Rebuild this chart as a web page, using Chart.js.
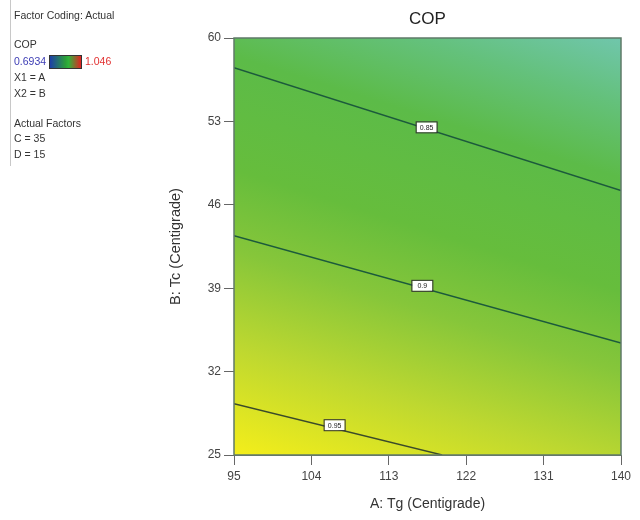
<!DOCTYPE html>
<html>
<head>
<meta charset="utf-8">
<script src="https://cdn.jsdelivr.net/npm/chart.js@4.4.0/dist/chart.umd.min.js"></script>
<style>
  body { margin: 0; background: #fff; font-family: "Liberation Sans", Arial, sans-serif; }
  #wrap { position: relative; width: 640px; height: 520px; }
  #cop { position: absolute; left: 0; top: 0; }
  .side { position: absolute; left: 10px; top: 0; height: 166px; border-left: 1px solid #c8c8c8; }
  .side div { position: absolute; left: 3px; white-space: nowrap; font-size: 10.5px; color: #333; line-height: 12px; }
  .bar { position: absolute; left: 38px; top: 55px; width: 31px; height: 12px; border: 1px solid #333;
         background: linear-gradient(to right, #1d3fa8, #2d9f3a 50%, #2fb43a 60%, #e32222); }
  #title { position: absolute; left: 234px; width: 387px; top: 9px; text-align: center; font-size: 17px; color: #222; }
</style>
</head>
<body>
<div id="wrap">
  <canvas id="cop" width="640" height="520"></canvas>
  <div id="title">COP</div>
  <div class="side">
    <div style="top:9px">Factor Coding: Actual</div>
    <div style="top:38px">COP</div>
    <div style="top:55px; color:#3c3cb4">0.6934</div>
    <span class="bar"></span>
    <div style="top:55px; left:74px; color:#e23232">1.046</div>
    <div style="top:71px">X1 = A</div>
    <div style="top:87px">X2 = B</div>
    <div style="top:117px">Actual Factors</div>
    <div style="top:132px">C = 35</div>
    <div style="top:148px">D = 15</div>
  </div>
</div>
<script>
// tick labels
const xTicks = [95, 104, 113, 122, 131, 140];
const yTicks = [25, 32, 39, 46, 53, 60];

// contour lines (A = Tg, B = Tc)
const levels = ['0.85', '0.9', '0.95'];
const lineA = [[95, 140], [95, 140], [95, 119.2]];
const lineB = [[57.5, 47.2], [43.4, 34.4], [29.3, 25]];
// where each level label sits
const labelA = [117.4, 116.9, 106.7];
const labelB = [52.5, 39.2, 27.5];

const datasets = levels.map((lv, i) => ({
  label: lv,
  data: lineA[i].map((a, j) => ({ x: a, y: lineB[i][j] })),
  showLine: true,
  borderColor: i === 2 ? '#3a4a2a' : '#1c5a3c',
  borderWidth: 1.4,
  pointRadius: 0,
  fill: false
}));

// colour field behind the contours, runs across the contour direction
const fieldPlugin = {
  id: 'field',
  beforeDatasetsDraw(chart) {
    const { ctx, chartArea: ca } = chart;
    const cx = (ca.left + ca.right) / 2, cy = (ca.top + ca.bottom) / 2;
    const dx = -0.3, dy = 0.954, h = 257;
    const g = ctx.createLinearGradient(cx - dx * h, cy - dy * h, cx + dx * h, cy + dy * h);
    g.addColorStop(0, '#70c6ac');
    g.addColorStop(0.12, '#64c17c');
    g.addColorStop(0.26, '#5cbb48');
    g.addColorStop(0.47, '#66bd3c');
    g.addColorStop(0.62, '#86c63a');
    g.addColorStop(0.8, '#bed830');
    g.addColorStop(1, '#f4ee1a');
    ctx.save();
    ctx.fillStyle = g;
    ctx.fillRect(ca.left, ca.top, ca.right - ca.left, ca.bottom - ca.top);
    ctx.restore();
  },
  afterDatasetsDraw(chart) {
    const { ctx, chartArea: ca, scales } = chart;
    ctx.save();
    ctx.font = '7px "Liberation Sans", Arial, sans-serif';
    ctx.textAlign = 'center';
    ctx.textBaseline = 'middle';
    levels.forEach((lv, i) => {
      const px = scales.x.getPixelForValue(labelA[i]);
      const py = scales.y.getPixelForValue(labelB[i]);
      ctx.fillStyle = '#fff';
      ctx.strokeStyle = '#333';
      ctx.lineWidth = 1;
      ctx.fillRect(px - 10, py - 5, 20, 10);
      ctx.strokeRect(px - 10.5, py - 5.5, 21, 11);
      ctx.fillStyle = '#222';
      ctx.fillText(lv, px, py + 0.5);
    });
    ctx.strokeStyle = '#5f7a68';
    ctx.lineWidth = 1.5;
    ctx.strokeRect(ca.left, ca.top, ca.right - ca.left, ca.bottom - ca.top);
    ctx.restore();
  }
};

new Chart(document.getElementById('cop'), {
  type: 'scatter',
  data: { datasets },
  plugins: [fieldPlugin],
  options: {
    responsive: false,
    animation: false,
    layout: { padding: { left: 160, right: 19, top: 38, bottom: 0 } },
    plugins: { legend: { display: false }, tooltip: { enabled: false } },
    scales: {
      x: {
        type: 'linear', min: 95, max: 140,
        afterBuildTicks: s => { s.ticks = xTicks.map(v => ({ value: v })); },
        afterFit: s => { s.height = 65; },
        grid: { drawOnChartArea: false, tickLength: 10, color: '#666' },
        border: { color: '#777' },
        ticks: { color: '#444', padding: 4, font: { size: 12, family: '"Liberation Sans", Arial' }, maxRotation: 0 },
        title: { display: true, text: 'A: Tg (Centigrade)', color: '#333', padding: { top: 0, bottom: 7 },
                 font: { size: 14, family: '"Liberation Sans", Arial' } }
      },
      y: {
        type: 'linear', min: 25, max: 60,
        afterBuildTicks: s => { s.ticks = yTicks.map(v => ({ value: v })); },
        afterFit: s => { s.width = 74; },
        grid: { drawOnChartArea: false, tickLength: 10, color: '#666' },
        border: { color: '#777' },
        ticks: { color: '#444', padding: 3, font: { size: 12, family: '"Liberation Sans", Arial' } },
        title: { display: true, text: 'B: Tc (Centigrade)', color: '#333', padding: { top: 7, bottom: 0 },
                 font: { size: 14.5, family: '"Liberation Sans", Arial' } }
      }
    }
  }
});
</script>
</body>
</html>
